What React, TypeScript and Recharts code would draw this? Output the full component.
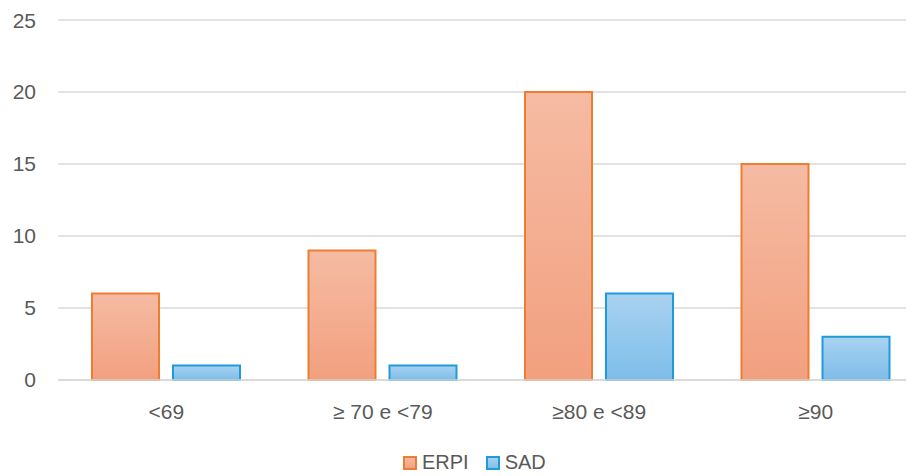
import React from "react";
import { BarChart, Bar, XAxis, YAxis, CartesianGrid } from "recharts";

const categories = ["<69", "≥ 70 e <79", "≥80 e <89", "≥90"];
const erpi = [6, 9, 20, 15];
const sad = [1, 1, 6, 3];
const yTicks = [0, 5, 10, 15, 20, 25];

const data = categories.map((c, i) => ({ name: c, ERPI: erpi[i], SAD: sad[i] }));

const FONT = "'Liberation Sans', Arial, sans-serif";
const TEXT = "#595959";

const legendItems = [
  { name: "ERPI", grad: "url(#gOrangeL)", stroke: "#ED7D31" },
  { name: "SAD", grad: "url(#gBlueL)", stroke: "#1F9BD7" },
];

function LegendContent() {
  return (
    <div style={{ position: "absolute", left: 395, top: 443, display: "flex", alignItems: "center", fontFamily: FONT, fontSize: 20, color: TEXT, whiteSpace: "nowrap" }}>
      {legendItems.map((it, i) => (
        <div key={it.name} style={{ display: "flex", alignItems: "center", marginLeft: i ? 17 : 0 }}>
          <svg width={14} height={14} style={{ marginRight: 5 }}>
            <defs>
              <linearGradient id="gOrangeL" x1="0" y1="0" x2="0" y2="1">
                <stop offset="0%" stopColor="#F5BBA3" />
                <stop offset="100%" stopColor="#F2A07F" />
              </linearGradient>
              <linearGradient id="gBlueL" x1="0" y1="0" x2="0" y2="1">
                <stop offset="0%" stopColor="#A9D2F1" />
                <stop offset="100%" stopColor="#7EBDE9" />
              </linearGradient>
            </defs>
            <rect x={1} y={1} width={12} height={12} fill={it.grad} stroke={it.stroke} strokeWidth={2} />
          </svg>
          <span>{it.name}</span>
        </div>
      ))}
    </div>
  );
}

export default function App() {
  return (
    <div style={{ width: 906, height: 468, position: "relative", overflow: "hidden" }}>
      <BarChart
        width={922}
        height={468}
        data={data}
        margin={{ top: 12, right: 6, left: 10, bottom: 66 }}
        barCategoryGap={34}
        barGap={14}
      >
        <defs>
          <linearGradient id="gOrange" x1="0" y1="0" x2="0" y2="1">
            <stop offset="0%" stopColor="#F5BBA3" />
            <stop offset="100%" stopColor="#F2A07F" />
          </linearGradient>
          <linearGradient id="gBlue" x1="0" y1="0" x2="0" y2="1">
            <stop offset="0%" stopColor="#A9D2F1" />
            <stop offset="100%" stopColor="#7EBDE9" />
          </linearGradient>
        </defs>
        <CartesianGrid vertical={false} stroke="#D9D9D9" strokeWidth={1.5} />
        <XAxis
          dataKey="name"
          axisLine={{ stroke: "#D9D9D9", strokeWidth: 1.5 }}
          tickLine={false}
          tickSize={0}
          tickMargin={24}
          tick={{ fill: TEXT, fontSize: 21, fontFamily: FONT }}
        />
        <YAxis
          width={40}
          domain={[0, 25]}
          ticks={yTicks}
          axisLine={false}
          tickLine={false}
          tickSize={0}
          tickMargin={22}
          tick={{ fill: TEXT, fontSize: 21, fontFamily: FONT }}
        />
        <Bar dataKey="ERPI" fill="url(#gOrange)" stroke="#ED7D31" strokeWidth={2} isAnimationActive={false} />
        <Bar dataKey="SAD" fill="url(#gBlue)" stroke="#1F9BD7" strokeWidth={2} isAnimationActive={false} />
      </BarChart>
      <LegendContent />
    </div>
  );
}
